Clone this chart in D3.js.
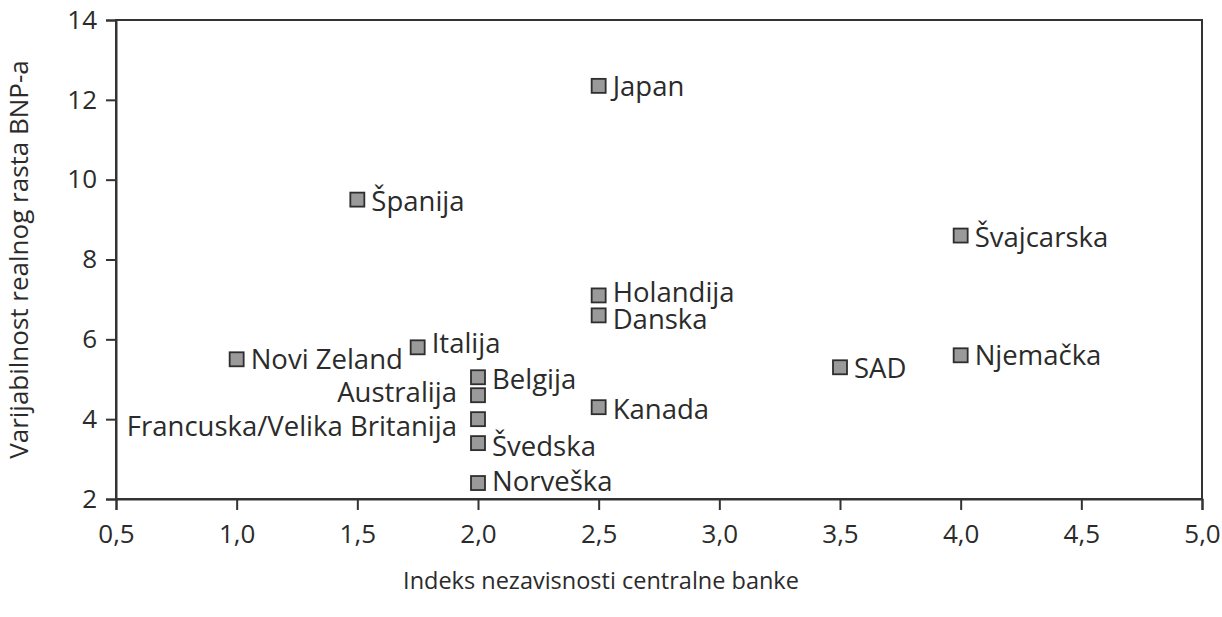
<!DOCTYPE html>
<html>
<head>
<meta charset="utf-8">
<script src="https://cdn.jsdelivr.net/npm/d3@7"></script>
<style>
  body { margin: 0; background: #fff; }
  svg { display: block; }
  text { font-family: "Open Sans", "Noto Sans", sans-serif; fill: #2b2b2b; }
</style>
</head>
<body>
<svg id="chart" width="1222" height="617"></svg>
<script>
// ---- data ----
const countries = ["Japan", "Španija", "Švajcarska", "Holandija", "Danska", "Novi Zeland", "Italija",
  "Njemačka", "SAD", "Belgija", "Australija", "Kanada", "Francuska/Velika Britanija", "Švedska", "Norveška"];
const independence = [2.5, 1.5, 4.0, 2.5, 2.5, 1.0, 1.75, 4.0, 3.5, 2.0, 2.0, 2.5, 2.0, 2.0, 2.0];
const variability = [12.35, 9.5, 8.6, 7.1, 6.6, 5.5, 5.8, 5.6, 5.3, 5.05, 4.6, 4.3, 4.0, 3.4, 2.4];
const xTicks = [0.5, 1.0, 1.5, 2.0, 2.5, 3.0, 3.5, 4.0, 4.5, 5.0];
const yTicks = [2, 4, 6, 8, 10, 12, 14];
const xTitle = "Indeks nezavisnosti centralne banke";
const yTitle = "Varijabilnost realnog rasta BNP-a";

// label layout: side of marker and vertical nudge (px)
const labelLayout = {
  "Japan": ["right", 0], "Španija": ["right", 1], "Švajcarska": ["right", 1],
  "Holandija": ["right", -3], "Danska": ["right", 4], "Novi Zeland": ["right", 0],
  "Italija": ["right", -4], "Njemačka": ["right", 0], "SAD": ["right", 1],
  "Belgija": ["right", 2], "Australija": ["left", -3], "Kanada": ["right", 2],
  "Francuska/Velika Britanija": ["left", 7], "Švedska": ["right", 3], "Norveška": ["right", -2]
};

const svg = d3.select("#chart");
const x = d3.scaleLinear().domain([0.5, 5.0]).range([116, 1202]);
const y = d3.scaleLinear().domain([2, 14]).range([499, 20]);

const fmt = d => d3.format(".1f")(d).replace(".", ",");

// frame
svg.append("rect")
  .attr("x", x(0.5)).attr("y", y(14))
  .attr("width", x(5.0) - x(0.5)).attr("height", y(2) - y(14))
  .attr("fill", "none").attr("stroke", "#333").attr("stroke-width", 2);

// axes
const xAxis = svg.append("g").attr("transform", `translate(0,${y(2)})`)
  .call(d3.axisBottom(x).tickValues(xTicks).tickFormat(fmt).tickSize(11).tickPadding(15));
const yAxis = svg.append("g").attr("transform", `translate(${x(0.5)},0)`)
  .call(d3.axisLeft(y).tickValues(yTicks).tickFormat(d3.format("d")).tickSize(10).tickPadding(9));
[xAxis, yAxis].forEach(g => {
  g.select(".domain").attr("stroke", "#333").attr("stroke-width", 2);
  g.selectAll(".tick line").attr("stroke", "#333").attr("stroke-width", 2);
  g.selectAll(".tick text").attr("font-size", 26).attr("fill", "#2b2b2b")
    .style("font-family", '"Open Sans", sans-serif');
});

// points
const pts = countries.map((c, i) => ({ name: c, xv: independence[i], yv: variability[i] }));
const s = 14;
svg.append("g").selectAll("rect").data(pts).join("rect")
  .attr("x", d => x(d.xv) - s / 2).attr("y", d => y(d.yv) - s / 2)
  .attr("width", s).attr("height", s)
  .attr("fill", "#9a9a9a").attr("stroke", "#2e2e2e").attr("stroke-width", 1.8);

svg.append("g").selectAll("text").data(pts).join("text")
  .attr("x", d => labelLayout[d.name][0] === "right" ? x(d.xv) + s / 2 + 7 : x(d.xv) - s / 2 - 14)
  .attr("y", d => y(d.yv) + labelLayout[d.name][1] + 10)
  .attr("text-anchor", d => labelLayout[d.name][0] === "right" ? "start" : "end")
  .attr("font-size", 27.5)
  .text(d => d.name);

// titles
svg.append("text").attr("x", 601).attr("y", 589).attr("text-anchor", "middle")
  .attr("font-size", 23.5).text(xTitle);
svg.append("text").attr("transform", `translate(28,${(y(2) + y(14)) / 2}) rotate(-90)`)
  .attr("text-anchor", "middle").attr("font-size", 26).text(yTitle);
</script>
</body>
</html>
